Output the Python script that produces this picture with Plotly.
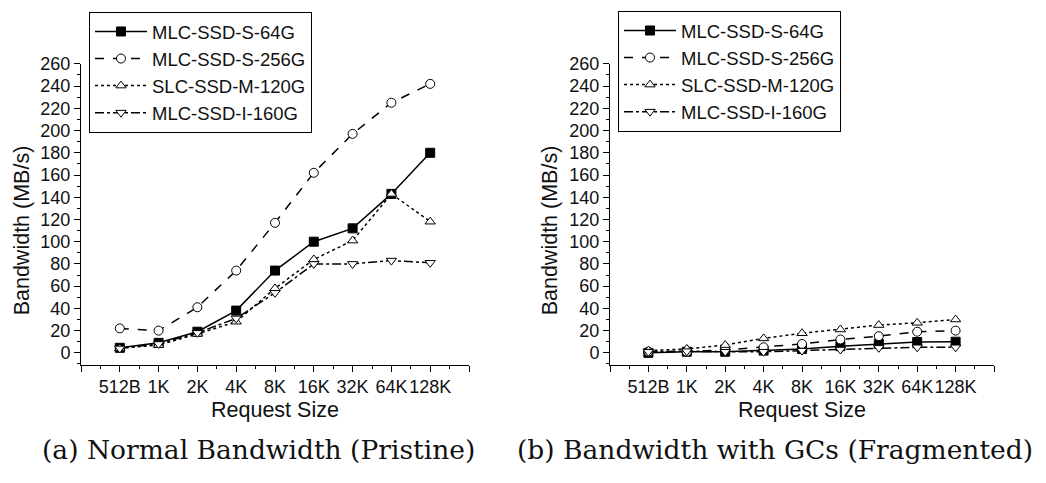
import plotly.graph_objects as go

categories = ["512B", "1K", "2K", "4K", "8K", "16K", "32K", "64K", "128K"]
series_names = ["MLC-SSD-S-64G", "MLC-SSD-S-256G", "SLC-SSD-M-120G", "MLC-SSD-I-160G"]

# (a) Normal Bandwidth (Pristine)
pristine_64g = [4.5, 9, 19, 38, 74, 100, 112, 143, 180]
pristine_256g = [22, 20, 41, 74, 117, 162, 197, 225, 242]
pristine_120g = [4, 7, 17, 28, 58, 84, 101, 143, 118]
pristine_160g = [4, 8, 18, 31, 54, 80, 80, 83, 81]

# (b) Bandwidth with GCs (Fragmented)
frag_64g = [0, 1, 1, 2, 3.5, 6, 8, 9.7, 10]
frag_256g = [1, 1, 2.6, 5, 8, 12, 15, 19, 20]
frag_120g = [2, 3.5, 7, 13, 17.6, 21, 25, 27, 30]
frag_160g = [1, 1.5, 1, 1, 2, 3, 4.5, 5, 5]

y_ticks = list(range(0, 261, 20))

styles = [
    dict(dash="solid", symbol="square", fill="black"),
    dict(dash="dash", symbol="circle", fill="white"),
    dict(dash="dot", symbol="triangle-up", fill="white"),
    dict(dash="dashdot", symbol="triangle-down", fill="white"),
]

W, H = 1046, 483
xi = list(range(len(categories)))
SANS = "Liberation Sans, Arial, sans-serif"

fig = go.Figure()
panels = [
    ("x", "y", "legend", [pristine_64g, pristine_256g, pristine_120g, pristine_160g]),
    ("x2", "y2", "legend2", [frag_64g, frag_256g, frag_120g, frag_160g]),
]
for xa, ya, lg, data in panels:
    for name, vals, st in zip(series_names, data, styles):
        fig.add_trace(go.Scatter(
            x=xi, y=vals, name=name, xaxis=xa, yaxis=ya, legend=lg,
            mode="lines+markers",
            line=dict(color="black", width=1.5, dash=st["dash"]),
            marker=dict(symbol=st["symbol"], size=9, color=st["fill"],
                        line=dict(color="black", width=1)),
        ))

tick_font = dict(family=SANS, size=18, color="#111")
major_x = list(range(-1, len(categories) + 1))
major_text = [""] + categories + [""]
minor_x = [i + 0.5 for i in range(-1, len(categories))]

def xaxis(domain, anchor):
    return dict(domain=domain, anchor=anchor, range=[-1, len(categories)],
                tickmode="array", tickvals=major_x, ticktext=major_text, tickangle=0,
                ticks="outside", ticklen=6, tickwidth=1, tickcolor="black",
                showline=True, linecolor="black", linewidth=1,
                showgrid=False, zeroline=False, tickfont=tick_font,
                minor=dict(tickmode="array", tickvals=minor_x, ticks="outside",
                           ticklen=3, tickcolor="black", tickwidth=1, showgrid=False))

def yaxis(domain, anchor):
    return dict(domain=domain, anchor=anchor, range=[-10.5, 260],
                tickmode="array", tickvals=y_ticks,
                ticks="outside", ticklen=6, tickwidth=1, tickcolor="black",
                showline=True, linecolor="black", linewidth=1,
                showgrid=False, zeroline=False, tickfont=tick_font,
                minor=dict(tickmode="linear", tick0=10, dtick=20, ticks="outside",
                           ticklen=3, tickcolor="black", tickwidth=1, showgrid=False))

ydom = [1 - 362 / H, 1 - 55 / H]
legend_common = dict(bgcolor="white", bordercolor="black", borderwidth=1,
                     font=dict(family=SANS, size=18.5, color="#111"),
                     xanchor="left", yanchor="top", tracegroupgap=0, itemwidth=52)

fig.update_layout(
    width=W, height=H, margin=dict(l=0, r=0, t=0, b=0),
    paper_bgcolor="white", plot_bgcolor="white", showlegend=True,
    xaxis=xaxis([81 / W, 469 / W], "y"),
    yaxis=yaxis(ydom, "x"),
    xaxis2=xaxis([610 / W, 994 / W], "y2"),
    yaxis2=yaxis(ydom, "x2"),
    legend=dict(x=89 / W, y=1 - 2 / H, **legend_common),
    legend2=dict(x=618 / W, y=1 - 1 / H, **legend_common),
)

title_font = dict(family=SANS, size=21.5, color="#111")
cap_font = dict(family="DejaVu Serif, serif", size=26.5, color="#111")
annots = [
    dict(text="Request Size", x=275 / W, y=1 - 408 / H, font=title_font),
    dict(text="Request Size", x=802 / W, y=1 - 408 / H, font=title_font),
    dict(text="Bandwidth (MB/s)", x=22 / W, y=1 - 225 / H, font=title_font, textangle=-90),
    dict(text="Bandwidth (MB/s)", x=550 / W, y=1 - 225 / H, font=title_font, textangle=-90),
    dict(text="(a) Normal Bandwidth (Pristine)", x=258 / W, y=1 - 449 / H, font=cap_font),
    dict(text="(b) Bandwidth with GCs (Fragmented)", x=775 / W, y=1 - 449 / H, font=cap_font),
]
for a in annots:
    fig.add_annotation(xref="paper", yref="paper", xanchor="center", yanchor="middle",
                       showarrow=False, **a)

fig.write_html("out.html")
